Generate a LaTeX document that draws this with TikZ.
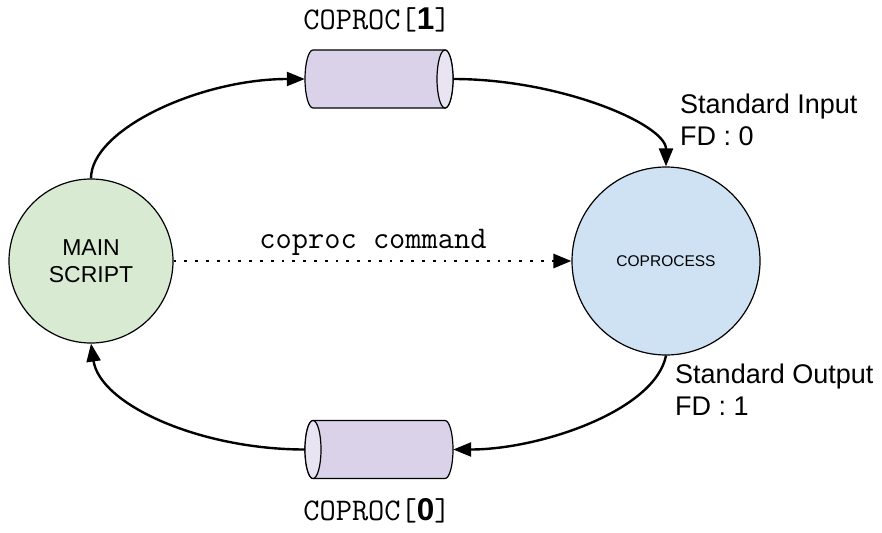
\documentclass[tikz,border=0pt]{standalone}
\usepackage{fontspec}
\setmainfont{Liberation Sans}
\newfontfamily\boldsans{Liberation Sans Bold}
\usetikzlibrary{arrows.meta}
\definecolor{mgreen}{HTML}{D9EAD3}
\definecolor{mblue}{HTML}{CFE2F3}
\definecolor{mpurple}{HTML}{D9D2E9}
\definecolor{mpurplelt}{HTML}{E8E4F2}
\begin{document}
\begin{tikzpicture}[x=1pt,y=-1pt,
  proc/.style={circle, draw=black, line width=1.2pt, inner sep=0pt, align=center},
  pipebox/.style={rectangle, inner sep=0pt, minimum width=148pt, minimum height=58pt},
  pipeline/.style={draw=black, line width=1.2pt},
  flow/.style={line width=2.4pt, -{Triangle[length=18pt,width=14pt]}},
  dots/.style={line width=2.8pt, dash pattern=on 2.8pt off 8pt,
    -{Triangle[length=18pt,width=14pt]}},
  monolbl/.style={font={\ttfamily\fontsize{31.5}{36}\selectfont}},
  sidelbl/.style={align=left, anchor=base west, inner sep=0pt, font={\fontsize{27}{32}\selectfont}}
]
\useasboundingbox (0,0) rectangle (882,532);

\node[proc, fill=mgreen, minimum size=164pt, font={\fontsize{23}{27}\selectfont}]
  (main) at (91,261) {MAIN\\SCRIPT};
\node[proc, fill=mblue, minimum size=188pt, font={\fontsize{15.5}{18}\selectfont}]
  (cop) at (666,261) {COPROCESS};

% pipes (end face on the right for COPROC[1], on the left for COPROC[0])
\node[pipebox] (p1) at (379,79) {};
\begin{scope}[shift={(p1.center)}]
  \path[pipeline, fill=mpurple] (-66,-29) -- (66,-29)
    arc[start angle=270, end angle=450, x radius=8, y radius=29] -- (-66,29)
    arc[start angle=90, end angle=270, x radius=8, y radius=29] -- cycle;
  \path[pipeline, fill=mpurplelt] (66,0) ellipse [x radius=8, y radius=29];
\end{scope}
\node[pipebox] (p0) at (379,449.5) {};
\begin{scope}[shift={(p0.center)}]
  \path[pipeline, fill=mpurple] (66,-29) -- (-66,-29)
    arc[start angle=270, end angle=90, x radius=8, y radius=29] -- (66,29)
    arc[start angle=90, end angle=-90, x radius=8, y radius=29] -- cycle;
  \path[pipeline, fill=mpurplelt] (-66,0) ellipse [x radius=8, y radius=29];
\end{scope}

\node[monolbl, anchor=base] (l1) at (377,30) {COPROC[{\boldsans 1}]};
\node[monolbl, anchor=base] (l0) at (377,520) {COPROC[{\boldsans 0}]};
\node[monolbl, anchor=base] (cmd) at (373,248) {coproc command};

\node[sidelbl] (sin) at (680,145) {Standard Input\\FD : 0};
\node[sidelbl] (sout) at (675,415) {Standard Output\\FD : 1};

\draw[flow] (main.north) .. controls +(0,-49) and +(-105,0) .. (p1.west);
\draw[flow] (p1.east) .. controls +(107,0) and +(0,-42) .. (cop.north);
\draw[flow] (cop.south) .. controls +(-11,55) and +(87,0) .. (p0.east);
\draw[flow] (p0.west) .. controls +(-105,0) and +(9,61) .. (main.south);
\draw[dots] (main.east) -- (cop.west);
\end{tikzpicture}
\end{document}
